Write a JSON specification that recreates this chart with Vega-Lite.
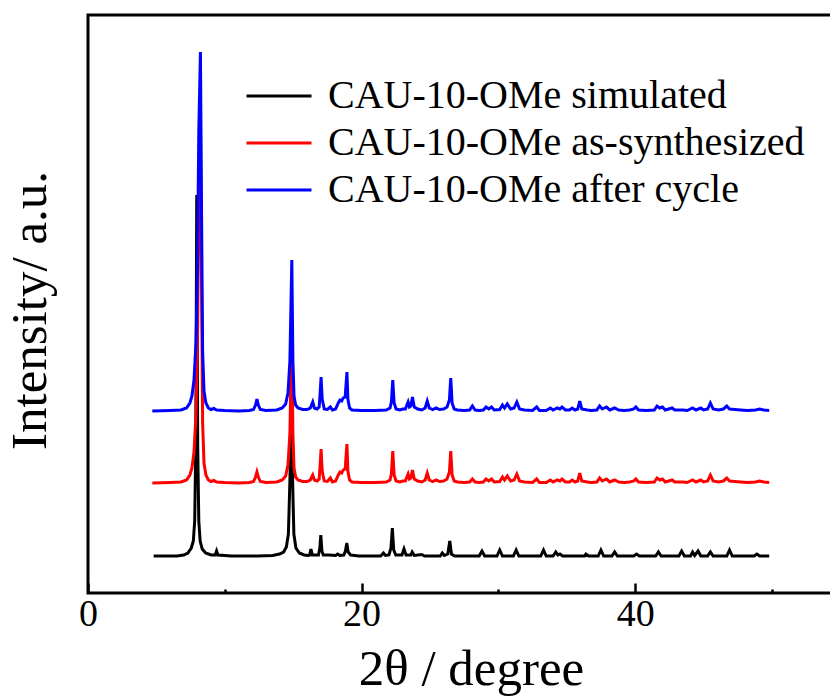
{
  "$schema": "https://vega.github.io/schema/vega-lite/v6.json",
  "width": 766,
  "height": 578,
  "autosize": {"type": "none"},
  "padding": {"left": 88, "top": 15, "right": 0, "bottom": 107},
  "background": "white",
  "config": {
    "view": {"stroke": "black", "strokeWidth": 3},
    "font": "Liberation Serif",
    "axis": {"grid": false}
  },
  "datasets": {
    "xrd": [
      {"angle": 4.8, "intensity": 37, "sample": "CAU-10-OMe simulated"},
      {"angle": 6.5, "intensity": 37, "sample": "CAU-10-OMe simulated"},
      {"angle": 7.0, "intensity": 38, "sample": "CAU-10-OMe simulated"},
      {"angle": 7.3, "intensity": 40, "sample": "CAU-10-OMe simulated"},
      {"angle": 7.55, "intensity": 45, "sample": "CAU-10-OMe simulated"},
      {"angle": 7.7, "intensity": 52, "sample": "CAU-10-OMe simulated"},
      {"angle": 7.8, "intensity": 72, "sample": "CAU-10-OMe simulated"},
      {"angle": 7.88, "intensity": 147, "sample": "CAU-10-OMe simulated"},
      {"angle": 7.95, "intensity": 398, "sample": "CAU-10-OMe simulated"},
      {"angle": 8.02, "intensity": 147, "sample": "CAU-10-OMe simulated"},
      {"angle": 8.1, "intensity": 72, "sample": "CAU-10-OMe simulated"},
      {"angle": 8.2, "intensity": 52, "sample": "CAU-10-OMe simulated"},
      {"angle": 8.35, "intensity": 44, "sample": "CAU-10-OMe simulated"},
      {"angle": 8.6, "intensity": 40, "sample": "CAU-10-OMe simulated"},
      {"angle": 9.0, "intensity": 38, "sample": "CAU-10-OMe simulated"},
      {"angle": 9.3, "intensity": 38, "sample": "CAU-10-OMe simulated"},
      {"angle": 9.4, "intensity": 42, "sample": "CAU-10-OMe simulated"},
      {"angle": 9.5, "intensity": 38, "sample": "CAU-10-OMe simulated"},
      {"angle": 10.5, "intensity": 37, "sample": "CAU-10-OMe simulated"},
      {"angle": 12.4, "intensity": 37, "sample": "CAU-10-OMe simulated"},
      {"angle": 13.5, "intensity": 37.5, "sample": "CAU-10-OMe simulated"},
      {"angle": 14.0, "intensity": 39, "sample": "CAU-10-OMe simulated"},
      {"angle": 14.3, "intensity": 41, "sample": "CAU-10-OMe simulated"},
      {"angle": 14.5, "intensity": 46, "sample": "CAU-10-OMe simulated"},
      {"angle": 14.65, "intensity": 59, "sample": "CAU-10-OMe simulated"},
      {"angle": 14.77, "intensity": 117, "sample": "CAU-10-OMe simulated"},
      {"angle": 14.87, "intensity": 217, "sample": "CAU-10-OMe simulated"},
      {"angle": 14.95, "intensity": 117, "sample": "CAU-10-OMe simulated"},
      {"angle": 15.05, "intensity": 59, "sample": "CAU-10-OMe simulated"},
      {"angle": 15.2, "intensity": 45, "sample": "CAU-10-OMe simulated"},
      {"angle": 15.45, "intensity": 40, "sample": "CAU-10-OMe simulated"},
      {"angle": 15.8, "intensity": 38, "sample": "CAU-10-OMe simulated"},
      {"angle": 16.1, "intensity": 37.5, "sample": "CAU-10-OMe simulated"},
      {"angle": 16.2, "intensity": 38, "sample": "CAU-10-OMe simulated"},
      {"angle": 16.3, "intensity": 44, "sample": "CAU-10-OMe simulated"},
      {"angle": 16.4, "intensity": 38, "sample": "CAU-10-OMe simulated"},
      {"angle": 16.85, "intensity": 38, "sample": "CAU-10-OMe simulated"},
      {"angle": 16.95, "intensity": 45, "sample": "CAU-10-OMe simulated"},
      {"angle": 17.02, "intensity": 58, "sample": "CAU-10-OMe simulated"},
      {"angle": 17.1, "intensity": 42, "sample": "CAU-10-OMe simulated"},
      {"angle": 17.2, "intensity": 38, "sample": "CAU-10-OMe simulated"},
      {"angle": 17.6, "intensity": 38, "sample": "CAU-10-OMe simulated"},
      {"angle": 18.1, "intensity": 37.5, "sample": "CAU-10-OMe simulated"},
      {"angle": 18.25, "intensity": 39, "sample": "CAU-10-OMe simulated"},
      {"angle": 18.4, "intensity": 37.5, "sample": "CAU-10-OMe simulated"},
      {"angle": 18.7, "intensity": 38, "sample": "CAU-10-OMe simulated"},
      {"angle": 18.82, "intensity": 42, "sample": "CAU-10-OMe simulated"},
      {"angle": 18.92, "intensity": 50, "sample": "CAU-10-OMe simulated"},
      {"angle": 19.02, "intensity": 41, "sample": "CAU-10-OMe simulated"},
      {"angle": 19.2, "intensity": 38, "sample": "CAU-10-OMe simulated"},
      {"angle": 19.8, "intensity": 37, "sample": "CAU-10-OMe simulated"},
      {"angle": 21.4, "intensity": 37, "sample": "CAU-10-OMe simulated"},
      {"angle": 21.6, "intensity": 40, "sample": "CAU-10-OMe simulated"},
      {"angle": 21.75, "intensity": 37.5, "sample": "CAU-10-OMe simulated"},
      {"angle": 22.0, "intensity": 38, "sample": "CAU-10-OMe simulated"},
      {"angle": 22.15, "intensity": 45, "sample": "CAU-10-OMe simulated"},
      {"angle": 22.25, "intensity": 65, "sample": "CAU-10-OMe simulated"},
      {"angle": 22.35, "intensity": 43, "sample": "CAU-10-OMe simulated"},
      {"angle": 22.5, "intensity": 38, "sample": "CAU-10-OMe simulated"},
      {"angle": 22.95, "intensity": 38, "sample": "CAU-10-OMe simulated"},
      {"angle": 23.1, "intensity": 44, "sample": "CAU-10-OMe simulated"},
      {"angle": 23.25, "intensity": 38, "sample": "CAU-10-OMe simulated"},
      {"angle": 23.6, "intensity": 38, "sample": "CAU-10-OMe simulated"},
      {"angle": 23.7, "intensity": 41, "sample": "CAU-10-OMe simulated"},
      {"angle": 23.85, "intensity": 37.5, "sample": "CAU-10-OMe simulated"},
      {"angle": 24.4, "intensity": 38.5, "sample": "CAU-10-OMe simulated"},
      {"angle": 24.6, "intensity": 37, "sample": "CAU-10-OMe simulated"},
      {"angle": 25.75, "intensity": 37, "sample": "CAU-10-OMe simulated"},
      {"angle": 25.9, "intensity": 40, "sample": "CAU-10-OMe simulated"},
      {"angle": 26.05, "intensity": 37.5, "sample": "CAU-10-OMe simulated"},
      {"angle": 26.3, "intensity": 39, "sample": "CAU-10-OMe simulated"},
      {"angle": 26.45, "intensity": 52, "sample": "CAU-10-OMe simulated"},
      {"angle": 26.57, "intensity": 39, "sample": "CAU-10-OMe simulated"},
      {"angle": 26.8, "intensity": 37, "sample": "CAU-10-OMe simulated"},
      {"angle": 28.6, "intensity": 37, "sample": "CAU-10-OMe simulated"},
      {"angle": 28.8, "intensity": 42, "sample": "CAU-10-OMe simulated"},
      {"angle": 29.0, "intensity": 37, "sample": "CAU-10-OMe simulated"},
      {"angle": 29.9, "intensity": 37, "sample": "CAU-10-OMe simulated"},
      {"angle": 30.1, "intensity": 43, "sample": "CAU-10-OMe simulated"},
      {"angle": 30.3, "intensity": 37, "sample": "CAU-10-OMe simulated"},
      {"angle": 31.1, "intensity": 37, "sample": "CAU-10-OMe simulated"},
      {"angle": 31.3, "intensity": 43, "sample": "CAU-10-OMe simulated"},
      {"angle": 31.5, "intensity": 37, "sample": "CAU-10-OMe simulated"},
      {"angle": 33.1, "intensity": 37, "sample": "CAU-10-OMe simulated"},
      {"angle": 33.3, "intensity": 43, "sample": "CAU-10-OMe simulated"},
      {"angle": 33.5, "intensity": 37, "sample": "CAU-10-OMe simulated"},
      {"angle": 34.0, "intensity": 37, "sample": "CAU-10-OMe simulated"},
      {"angle": 34.2, "intensity": 41, "sample": "CAU-10-OMe simulated"},
      {"angle": 34.35, "intensity": 38, "sample": "CAU-10-OMe simulated"},
      {"angle": 34.5, "intensity": 39, "sample": "CAU-10-OMe simulated"},
      {"angle": 34.7, "intensity": 37, "sample": "CAU-10-OMe simulated"},
      {"angle": 36.3, "intensity": 37, "sample": "CAU-10-OMe simulated"},
      {"angle": 36.4, "intensity": 39, "sample": "CAU-10-OMe simulated"},
      {"angle": 36.6, "intensity": 37, "sample": "CAU-10-OMe simulated"},
      {"angle": 37.3, "intensity": 37, "sample": "CAU-10-OMe simulated"},
      {"angle": 37.5, "intensity": 43, "sample": "CAU-10-OMe simulated"},
      {"angle": 37.7, "intensity": 37, "sample": "CAU-10-OMe simulated"},
      {"angle": 38.3, "intensity": 37, "sample": "CAU-10-OMe simulated"},
      {"angle": 38.5, "intensity": 41, "sample": "CAU-10-OMe simulated"},
      {"angle": 38.7, "intensity": 37, "sample": "CAU-10-OMe simulated"},
      {"angle": 39.9, "intensity": 37, "sample": "CAU-10-OMe simulated"},
      {"angle": 40.1, "intensity": 39, "sample": "CAU-10-OMe simulated"},
      {"angle": 40.3, "intensity": 37, "sample": "CAU-10-OMe simulated"},
      {"angle": 41.5, "intensity": 37, "sample": "CAU-10-OMe simulated"},
      {"angle": 41.7, "intensity": 41, "sample": "CAU-10-OMe simulated"},
      {"angle": 41.9, "intensity": 37, "sample": "CAU-10-OMe simulated"},
      {"angle": 43.2, "intensity": 37, "sample": "CAU-10-OMe simulated"},
      {"angle": 43.4, "intensity": 42, "sample": "CAU-10-OMe simulated"},
      {"angle": 43.6, "intensity": 37, "sample": "CAU-10-OMe simulated"},
      {"angle": 44.05, "intensity": 37, "sample": "CAU-10-OMe simulated"},
      {"angle": 44.2, "intensity": 41, "sample": "CAU-10-OMe simulated"},
      {"angle": 44.35, "intensity": 37.5, "sample": "CAU-10-OMe simulated"},
      {"angle": 44.6, "intensity": 42, "sample": "CAU-10-OMe simulated"},
      {"angle": 44.8, "intensity": 37, "sample": "CAU-10-OMe simulated"},
      {"angle": 45.3, "intensity": 37, "sample": "CAU-10-OMe simulated"},
      {"angle": 45.5, "intensity": 41, "sample": "CAU-10-OMe simulated"},
      {"angle": 45.7, "intensity": 37, "sample": "CAU-10-OMe simulated"},
      {"angle": 46.7, "intensity": 37, "sample": "CAU-10-OMe simulated"},
      {"angle": 46.9, "intensity": 43, "sample": "CAU-10-OMe simulated"},
      {"angle": 47.1, "intensity": 37, "sample": "CAU-10-OMe simulated"},
      {"angle": 48.7, "intensity": 37, "sample": "CAU-10-OMe simulated"},
      {"angle": 48.9, "intensity": 39, "sample": "CAU-10-OMe simulated"},
      {"angle": 49.1, "intensity": 37, "sample": "CAU-10-OMe simulated"},
      {"angle": 49.8, "intensity": 37, "sample": "CAU-10-OMe simulated"},

      {"angle": 4.7, "intensity": 110, "sample": "CAU-10-OMe as-synthesized"},
      {"angle": 6.0, "intensity": 110.5, "sample": "CAU-10-OMe as-synthesized"},
      {"angle": 6.8, "intensity": 111, "sample": "CAU-10-OMe as-synthesized"},
      {"angle": 7.2, "intensity": 113, "sample": "CAU-10-OMe as-synthesized"},
      {"angle": 7.45, "intensity": 118, "sample": "CAU-10-OMe as-synthesized"},
      {"angle": 7.6, "intensity": 125, "sample": "CAU-10-OMe as-synthesized"},
      {"angle": 7.75, "intensity": 141, "sample": "CAU-10-OMe as-synthesized"},
      {"angle": 7.9, "intensity": 180, "sample": "CAU-10-OMe as-synthesized"},
      {"angle": 8.0, "intensity": 250, "sample": "CAU-10-OMe as-synthesized"},
      {"angle": 8.1, "intensity": 390, "sample": "CAU-10-OMe as-synthesized"},
      {"angle": 8.22, "intensity": 469, "sample": "CAU-10-OMe as-synthesized"},
      {"angle": 8.3, "intensity": 310, "sample": "CAU-10-OMe as-synthesized"},
      {"angle": 8.38, "intensity": 170, "sample": "CAU-10-OMe as-synthesized"},
      {"angle": 8.48, "intensity": 130, "sample": "CAU-10-OMe as-synthesized"},
      {"angle": 8.62, "intensity": 118, "sample": "CAU-10-OMe as-synthesized"},
      {"angle": 8.8, "intensity": 113, "sample": "CAU-10-OMe as-synthesized"},
      {"angle": 9.0, "intensity": 111.5, "sample": "CAU-10-OMe as-synthesized"},
      {"angle": 9.2, "intensity": 112.5, "sample": "CAU-10-OMe as-synthesized"},
      {"angle": 9.4, "intensity": 111, "sample": "CAU-10-OMe as-synthesized"},
      {"angle": 10.0, "intensity": 110.5, "sample": "CAU-10-OMe as-synthesized"},
      {"angle": 11.0, "intensity": 110, "sample": "CAU-10-OMe as-synthesized"},
      {"angle": 11.8, "intensity": 110.5, "sample": "CAU-10-OMe as-synthesized"},
      {"angle": 12.1, "intensity": 111.5, "sample": "CAU-10-OMe as-synthesized"},
      {"angle": 12.25, "intensity": 116, "sample": "CAU-10-OMe as-synthesized"},
      {"angle": 12.35, "intensity": 121, "sample": "CAU-10-OMe as-synthesized"},
      {"angle": 12.45, "intensity": 116, "sample": "CAU-10-OMe as-synthesized"},
      {"angle": 12.6, "intensity": 111.5, "sample": "CAU-10-OMe as-synthesized"},
      {"angle": 13.0, "intensity": 110.5, "sample": "CAU-10-OMe as-synthesized"},
      {"angle": 13.8, "intensity": 111, "sample": "CAU-10-OMe as-synthesized"},
      {"angle": 14.2, "intensity": 113, "sample": "CAU-10-OMe as-synthesized"},
      {"angle": 14.45, "intensity": 117, "sample": "CAU-10-OMe as-synthesized"},
      {"angle": 14.62, "intensity": 128, "sample": "CAU-10-OMe as-synthesized"},
      {"angle": 14.76, "intensity": 160, "sample": "CAU-10-OMe as-synthesized"},
      {"angle": 14.9, "intensity": 261, "sample": "CAU-10-OMe as-synthesized"},
      {"angle": 14.98, "intensity": 160, "sample": "CAU-10-OMe as-synthesized"},
      {"angle": 15.06, "intensity": 125, "sample": "CAU-10-OMe as-synthesized"},
      {"angle": 15.18, "intensity": 116, "sample": "CAU-10-OMe as-synthesized"},
      {"angle": 15.35, "intensity": 113, "sample": "CAU-10-OMe as-synthesized"},
      {"angle": 15.7, "intensity": 111.5, "sample": "CAU-10-OMe as-synthesized"},
      {"angle": 16.0, "intensity": 111.5, "sample": "CAU-10-OMe as-synthesized"},
      {"angle": 16.25, "intensity": 113, "sample": "CAU-10-OMe as-synthesized"},
      {"angle": 16.43, "intensity": 118, "sample": "CAU-10-OMe as-synthesized"},
      {"angle": 16.55, "intensity": 113, "sample": "CAU-10-OMe as-synthesized"},
      {"angle": 16.75, "intensity": 112, "sample": "CAU-10-OMe as-synthesized"},
      {"angle": 16.9, "intensity": 114, "sample": "CAU-10-OMe as-synthesized"},
      {"angle": 16.98, "intensity": 130, "sample": "CAU-10-OMe as-synthesized"},
      {"angle": 17.04, "intensity": 144, "sample": "CAU-10-OMe as-synthesized"},
      {"angle": 17.12, "intensity": 122, "sample": "CAU-10-OMe as-synthesized"},
      {"angle": 17.27, "intensity": 112, "sample": "CAU-10-OMe as-synthesized"},
      {"angle": 17.5, "intensity": 111.5, "sample": "CAU-10-OMe as-synthesized"},
      {"angle": 17.72, "intensity": 115, "sample": "CAU-10-OMe as-synthesized"},
      {"angle": 17.87, "intensity": 111, "sample": "CAU-10-OMe as-synthesized"},
      {"angle": 18.1, "intensity": 112, "sample": "CAU-10-OMe as-synthesized"},
      {"angle": 18.3, "intensity": 118, "sample": "CAU-10-OMe as-synthesized"},
      {"angle": 18.42, "intensity": 121, "sample": "CAU-10-OMe as-synthesized"},
      {"angle": 18.55, "intensity": 120, "sample": "CAU-10-OMe as-synthesized"},
      {"angle": 18.65, "intensity": 123, "sample": "CAU-10-OMe as-synthesized"},
      {"angle": 18.8, "intensity": 124, "sample": "CAU-10-OMe as-synthesized"},
      {"angle": 18.93, "intensity": 149, "sample": "CAU-10-OMe as-synthesized"},
      {"angle": 19.0, "intensity": 122, "sample": "CAU-10-OMe as-synthesized"},
      {"angle": 19.12, "intensity": 113, "sample": "CAU-10-OMe as-synthesized"},
      {"angle": 19.3, "intensity": 111, "sample": "CAU-10-OMe as-synthesized"},
      {"angle": 20.0, "intensity": 110.5, "sample": "CAU-10-OMe as-synthesized"},
      {"angle": 21.0, "intensity": 110.5, "sample": "CAU-10-OMe as-synthesized"},
      {"angle": 21.8, "intensity": 111, "sample": "CAU-10-OMe as-synthesized"},
      {"angle": 22.08, "intensity": 113, "sample": "CAU-10-OMe as-synthesized"},
      {"angle": 22.18, "intensity": 119, "sample": "CAU-10-OMe as-synthesized"},
      {"angle": 22.28, "intensity": 142, "sample": "CAU-10-OMe as-synthesized"},
      {"angle": 22.38, "intensity": 118, "sample": "CAU-10-OMe as-synthesized"},
      {"angle": 22.52, "intensity": 112, "sample": "CAU-10-OMe as-synthesized"},
      {"angle": 22.8, "intensity": 111, "sample": "CAU-10-OMe as-synthesized"},
      {"angle": 23.0, "intensity": 112, "sample": "CAU-10-OMe as-synthesized"},
      {"angle": 23.2, "intensity": 112, "sample": "CAU-10-OMe as-synthesized"},
      {"angle": 23.4, "intensity": 119, "sample": "CAU-10-OMe as-synthesized"},
      {"angle": 23.5, "intensity": 114, "sample": "CAU-10-OMe as-synthesized"},
      {"angle": 23.6, "intensity": 115, "sample": "CAU-10-OMe as-synthesized"},
      {"angle": 23.72, "intensity": 123, "sample": "CAU-10-OMe as-synthesized"},
      {"angle": 23.85, "intensity": 114, "sample": "CAU-10-OMe as-synthesized"},
      {"angle": 24.1, "intensity": 112, "sample": "CAU-10-OMe as-synthesized"},
      {"angle": 24.4, "intensity": 111, "sample": "CAU-10-OMe as-synthesized"},
      {"angle": 24.65, "intensity": 113, "sample": "CAU-10-OMe as-synthesized"},
      {"angle": 24.8, "intensity": 120, "sample": "CAU-10-OMe as-synthesized"},
      {"angle": 24.95, "intensity": 113, "sample": "CAU-10-OMe as-synthesized"},
      {"angle": 25.2, "intensity": 111.5, "sample": "CAU-10-OMe as-synthesized"},
      {"angle": 25.45, "intensity": 113, "sample": "CAU-10-OMe as-synthesized"},
      {"angle": 25.7, "intensity": 111.5, "sample": "CAU-10-OMe as-synthesized"},
      {"angle": 26.0, "intensity": 112, "sample": "CAU-10-OMe as-synthesized"},
      {"angle": 26.25, "intensity": 114, "sample": "CAU-10-OMe as-synthesized"},
      {"angle": 26.42, "intensity": 121, "sample": "CAU-10-OMe as-synthesized"},
      {"angle": 26.52, "intensity": 142, "sample": "CAU-10-OMe as-synthesized"},
      {"angle": 26.62, "intensity": 118, "sample": "CAU-10-OMe as-synthesized"},
      {"angle": 26.77, "intensity": 112, "sample": "CAU-10-OMe as-synthesized"},
      {"angle": 27.0, "intensity": 111, "sample": "CAU-10-OMe as-synthesized"},
      {"angle": 27.5, "intensity": 110.5, "sample": "CAU-10-OMe as-synthesized"},
      {"angle": 27.9, "intensity": 111, "sample": "CAU-10-OMe as-synthesized"},
      {"angle": 28.1, "intensity": 114, "sample": "CAU-10-OMe as-synthesized"},
      {"angle": 28.3, "intensity": 111, "sample": "CAU-10-OMe as-synthesized"},
      {"angle": 28.6, "intensity": 110.5, "sample": "CAU-10-OMe as-synthesized"},
      {"angle": 28.9, "intensity": 111, "sample": "CAU-10-OMe as-synthesized"},
      {"angle": 29.1, "intensity": 114, "sample": "CAU-10-OMe as-synthesized"},
      {"angle": 29.3, "intensity": 112, "sample": "CAU-10-OMe as-synthesized"},
      {"angle": 29.5, "intensity": 114, "sample": "CAU-10-OMe as-synthesized"},
      {"angle": 29.7, "intensity": 111, "sample": "CAU-10-OMe as-synthesized"},
      {"angle": 30.1, "intensity": 111.5, "sample": "CAU-10-OMe as-synthesized"},
      {"angle": 30.3, "intensity": 116, "sample": "CAU-10-OMe as-synthesized"},
      {"angle": 30.45, "intensity": 113, "sample": "CAU-10-OMe as-synthesized"},
      {"angle": 30.65, "intensity": 117, "sample": "CAU-10-OMe as-synthesized"},
      {"angle": 30.9, "intensity": 112, "sample": "CAU-10-OMe as-synthesized"},
      {"angle": 31.15, "intensity": 113, "sample": "CAU-10-OMe as-synthesized"},
      {"angle": 31.35, "intensity": 119, "sample": "CAU-10-OMe as-synthesized"},
      {"angle": 31.55, "intensity": 112, "sample": "CAU-10-OMe as-synthesized"},
      {"angle": 31.9, "intensity": 111, "sample": "CAU-10-OMe as-synthesized"},
      {"angle": 32.5, "intensity": 110.5, "sample": "CAU-10-OMe as-synthesized"},
      {"angle": 32.8, "intensity": 114, "sample": "CAU-10-OMe as-synthesized"},
      {"angle": 33.0, "intensity": 110.5, "sample": "CAU-10-OMe as-synthesized"},
      {"angle": 33.5, "intensity": 110.5, "sample": "CAU-10-OMe as-synthesized"},
      {"angle": 33.8, "intensity": 113, "sample": "CAU-10-OMe as-synthesized"},
      {"angle": 34.0, "intensity": 111, "sample": "CAU-10-OMe as-synthesized"},
      {"angle": 34.3, "intensity": 113, "sample": "CAU-10-OMe as-synthesized"},
      {"angle": 34.5, "intensity": 112, "sample": "CAU-10-OMe as-synthesized"},
      {"angle": 34.65, "intensity": 114, "sample": "CAU-10-OMe as-synthesized"},
      {"angle": 34.9, "intensity": 111, "sample": "CAU-10-OMe as-synthesized"},
      {"angle": 35.2, "intensity": 111, "sample": "CAU-10-OMe as-synthesized"},
      {"angle": 35.4, "intensity": 113, "sample": "CAU-10-OMe as-synthesized"},
      {"angle": 35.6, "intensity": 111, "sample": "CAU-10-OMe as-synthesized"},
      {"angle": 35.8, "intensity": 112, "sample": "CAU-10-OMe as-synthesized"},
      {"angle": 35.95, "intensity": 120, "sample": "CAU-10-OMe as-synthesized"},
      {"angle": 36.1, "intensity": 112, "sample": "CAU-10-OMe as-synthesized"},
      {"angle": 36.5, "intensity": 111, "sample": "CAU-10-OMe as-synthesized"},
      {"angle": 36.8, "intensity": 110.5, "sample": "CAU-10-OMe as-synthesized"},
      {"angle": 37.2, "intensity": 111, "sample": "CAU-10-OMe as-synthesized"},
      {"angle": 37.4, "intensity": 115, "sample": "CAU-10-OMe as-synthesized"},
      {"angle": 37.6, "intensity": 112, "sample": "CAU-10-OMe as-synthesized"},
      {"angle": 37.9, "intensity": 114, "sample": "CAU-10-OMe as-synthesized"},
      {"angle": 38.15, "intensity": 111, "sample": "CAU-10-OMe as-synthesized"},
      {"angle": 38.5, "intensity": 113, "sample": "CAU-10-OMe as-synthesized"},
      {"angle": 38.8, "intensity": 111, "sample": "CAU-10-OMe as-synthesized"},
      {"angle": 39.2, "intensity": 110.5, "sample": "CAU-10-OMe as-synthesized"},
      {"angle": 39.6, "intensity": 111, "sample": "CAU-10-OMe as-synthesized"},
      {"angle": 39.9, "intensity": 112, "sample": "CAU-10-OMe as-synthesized"},
      {"angle": 40.05, "intensity": 114, "sample": "CAU-10-OMe as-synthesized"},
      {"angle": 40.25, "intensity": 111, "sample": "CAU-10-OMe as-synthesized"},
      {"angle": 40.8, "intensity": 110.5, "sample": "CAU-10-OMe as-synthesized"},
      {"angle": 41.4, "intensity": 111, "sample": "CAU-10-OMe as-synthesized"},
      {"angle": 41.6, "intensity": 115, "sample": "CAU-10-OMe as-synthesized"},
      {"angle": 41.8, "intensity": 113, "sample": "CAU-10-OMe as-synthesized"},
      {"angle": 42.0, "intensity": 114, "sample": "CAU-10-OMe as-synthesized"},
      {"angle": 42.2, "intensity": 111, "sample": "CAU-10-OMe as-synthesized"},
      {"angle": 42.7, "intensity": 113, "sample": "CAU-10-OMe as-synthesized"},
      {"angle": 42.9, "intensity": 111, "sample": "CAU-10-OMe as-synthesized"},
      {"angle": 43.5, "intensity": 111, "sample": "CAU-10-OMe as-synthesized"},
      {"angle": 43.8, "intensity": 110.5, "sample": "CAU-10-OMe as-synthesized"},
      {"angle": 44.2, "intensity": 113, "sample": "CAU-10-OMe as-synthesized"},
      {"angle": 44.45, "intensity": 111, "sample": "CAU-10-OMe as-synthesized"},
      {"angle": 44.8, "intensity": 113, "sample": "CAU-10-OMe as-synthesized"},
      {"angle": 45.0, "intensity": 111, "sample": "CAU-10-OMe as-synthesized"},
      {"angle": 45.3, "intensity": 112, "sample": "CAU-10-OMe as-synthesized"},
      {"angle": 45.5, "intensity": 118, "sample": "CAU-10-OMe as-synthesized"},
      {"angle": 45.7, "intensity": 112, "sample": "CAU-10-OMe as-synthesized"},
      {"angle": 46.1, "intensity": 111, "sample": "CAU-10-OMe as-synthesized"},
      {"angle": 46.45, "intensity": 112, "sample": "CAU-10-OMe as-synthesized"},
      {"angle": 46.7, "intensity": 115, "sample": "CAU-10-OMe as-synthesized"},
      {"angle": 46.9, "intensity": 112, "sample": "CAU-10-OMe as-synthesized"},
      {"angle": 47.3, "intensity": 111.5, "sample": "CAU-10-OMe as-synthesized"},
      {"angle": 47.7, "intensity": 111, "sample": "CAU-10-OMe as-synthesized"},
      {"angle": 48.2, "intensity": 110.5, "sample": "CAU-10-OMe as-synthesized"},
      {"angle": 48.8, "intensity": 111, "sample": "CAU-10-OMe as-synthesized"},
      {"angle": 49.1, "intensity": 112, "sample": "CAU-10-OMe as-synthesized"},
      {"angle": 49.4, "intensity": 111, "sample": "CAU-10-OMe as-synthesized"},
      {"angle": 49.8, "intensity": 110.5, "sample": "CAU-10-OMe as-synthesized"},

      {"angle": 4.7, "intensity": 182, "sample": "CAU-10-OMe after cycle"},
      {"angle": 6.0, "intensity": 182.5, "sample": "CAU-10-OMe after cycle"},
      {"angle": 6.8, "intensity": 183, "sample": "CAU-10-OMe after cycle"},
      {"angle": 7.2, "intensity": 185, "sample": "CAU-10-OMe after cycle"},
      {"angle": 7.45, "intensity": 190, "sample": "CAU-10-OMe after cycle"},
      {"angle": 7.6, "intensity": 197, "sample": "CAU-10-OMe after cycle"},
      {"angle": 7.75, "intensity": 213, "sample": "CAU-10-OMe after cycle"},
      {"angle": 7.9, "intensity": 252, "sample": "CAU-10-OMe after cycle"},
      {"angle": 8.0, "intensity": 322, "sample": "CAU-10-OMe after cycle"},
      {"angle": 8.1, "intensity": 462, "sample": "CAU-10-OMe after cycle"},
      {"angle": 8.22, "intensity": 541, "sample": "CAU-10-OMe after cycle"},
      {"angle": 8.3, "intensity": 382, "sample": "CAU-10-OMe after cycle"},
      {"angle": 8.38, "intensity": 242, "sample": "CAU-10-OMe after cycle"},
      {"angle": 8.48, "intensity": 202, "sample": "CAU-10-OMe after cycle"},
      {"angle": 8.62, "intensity": 190, "sample": "CAU-10-OMe after cycle"},
      {"angle": 8.8, "intensity": 185, "sample": "CAU-10-OMe after cycle"},
      {"angle": 9.0, "intensity": 183.5, "sample": "CAU-10-OMe after cycle"},
      {"angle": 9.2, "intensity": 184.5, "sample": "CAU-10-OMe after cycle"},
      {"angle": 9.4, "intensity": 183, "sample": "CAU-10-OMe after cycle"},
      {"angle": 10.0, "intensity": 182.5, "sample": "CAU-10-OMe after cycle"},
      {"angle": 11.0, "intensity": 182, "sample": "CAU-10-OMe after cycle"},
      {"angle": 11.8, "intensity": 182.5, "sample": "CAU-10-OMe after cycle"},
      {"angle": 12.1, "intensity": 183.5, "sample": "CAU-10-OMe after cycle"},
      {"angle": 12.25, "intensity": 188, "sample": "CAU-10-OMe after cycle"},
      {"angle": 12.35, "intensity": 194, "sample": "CAU-10-OMe after cycle"},
      {"angle": 12.45, "intensity": 188, "sample": "CAU-10-OMe after cycle"},
      {"angle": 12.6, "intensity": 183.5, "sample": "CAU-10-OMe after cycle"},
      {"angle": 13.0, "intensity": 182.5, "sample": "CAU-10-OMe after cycle"},
      {"angle": 13.8, "intensity": 183, "sample": "CAU-10-OMe after cycle"},
      {"angle": 14.2, "intensity": 185, "sample": "CAU-10-OMe after cycle"},
      {"angle": 14.45, "intensity": 189, "sample": "CAU-10-OMe after cycle"},
      {"angle": 14.62, "intensity": 200, "sample": "CAU-10-OMe after cycle"},
      {"angle": 14.76, "intensity": 232, "sample": "CAU-10-OMe after cycle"},
      {"angle": 14.9, "intensity": 333, "sample": "CAU-10-OMe after cycle"},
      {"angle": 14.98, "intensity": 232, "sample": "CAU-10-OMe after cycle"},
      {"angle": 15.06, "intensity": 197, "sample": "CAU-10-OMe after cycle"},
      {"angle": 15.18, "intensity": 188, "sample": "CAU-10-OMe after cycle"},
      {"angle": 15.35, "intensity": 185, "sample": "CAU-10-OMe after cycle"},
      {"angle": 15.7, "intensity": 183.5, "sample": "CAU-10-OMe after cycle"},
      {"angle": 16.0, "intensity": 183.5, "sample": "CAU-10-OMe after cycle"},
      {"angle": 16.25, "intensity": 185, "sample": "CAU-10-OMe after cycle"},
      {"angle": 16.43, "intensity": 191, "sample": "CAU-10-OMe after cycle"},
      {"angle": 16.55, "intensity": 185, "sample": "CAU-10-OMe after cycle"},
      {"angle": 16.75, "intensity": 184, "sample": "CAU-10-OMe after cycle"},
      {"angle": 16.9, "intensity": 186, "sample": "CAU-10-OMe after cycle"},
      {"angle": 16.98, "intensity": 202, "sample": "CAU-10-OMe after cycle"},
      {"angle": 17.04, "intensity": 216, "sample": "CAU-10-OMe after cycle"},
      {"angle": 17.12, "intensity": 194, "sample": "CAU-10-OMe after cycle"},
      {"angle": 17.27, "intensity": 184, "sample": "CAU-10-OMe after cycle"},
      {"angle": 17.5, "intensity": 183.5, "sample": "CAU-10-OMe after cycle"},
      {"angle": 17.72, "intensity": 186, "sample": "CAU-10-OMe after cycle"},
      {"angle": 17.87, "intensity": 183, "sample": "CAU-10-OMe after cycle"},
      {"angle": 18.1, "intensity": 184, "sample": "CAU-10-OMe after cycle"},
      {"angle": 18.3, "intensity": 190, "sample": "CAU-10-OMe after cycle"},
      {"angle": 18.42, "intensity": 193, "sample": "CAU-10-OMe after cycle"},
      {"angle": 18.55, "intensity": 192, "sample": "CAU-10-OMe after cycle"},
      {"angle": 18.65, "intensity": 195, "sample": "CAU-10-OMe after cycle"},
      {"angle": 18.8, "intensity": 196, "sample": "CAU-10-OMe after cycle"},
      {"angle": 18.93, "intensity": 221, "sample": "CAU-10-OMe after cycle"},
      {"angle": 19.0, "intensity": 194, "sample": "CAU-10-OMe after cycle"},
      {"angle": 19.12, "intensity": 185, "sample": "CAU-10-OMe after cycle"},
      {"angle": 19.3, "intensity": 183, "sample": "CAU-10-OMe after cycle"},
      {"angle": 20.0, "intensity": 182.5, "sample": "CAU-10-OMe after cycle"},
      {"angle": 21.0, "intensity": 182.5, "sample": "CAU-10-OMe after cycle"},
      {"angle": 21.8, "intensity": 183, "sample": "CAU-10-OMe after cycle"},
      {"angle": 22.08, "intensity": 185, "sample": "CAU-10-OMe after cycle"},
      {"angle": 22.18, "intensity": 191, "sample": "CAU-10-OMe after cycle"},
      {"angle": 22.28, "intensity": 213, "sample": "CAU-10-OMe after cycle"},
      {"angle": 22.38, "intensity": 190, "sample": "CAU-10-OMe after cycle"},
      {"angle": 22.52, "intensity": 184, "sample": "CAU-10-OMe after cycle"},
      {"angle": 22.8, "intensity": 183, "sample": "CAU-10-OMe after cycle"},
      {"angle": 23.0, "intensity": 184, "sample": "CAU-10-OMe after cycle"},
      {"angle": 23.2, "intensity": 184, "sample": "CAU-10-OMe after cycle"},
      {"angle": 23.4, "intensity": 191, "sample": "CAU-10-OMe after cycle"},
      {"angle": 23.5, "intensity": 186, "sample": "CAU-10-OMe after cycle"},
      {"angle": 23.6, "intensity": 187, "sample": "CAU-10-OMe after cycle"},
      {"angle": 23.72, "intensity": 196, "sample": "CAU-10-OMe after cycle"},
      {"angle": 23.85, "intensity": 186, "sample": "CAU-10-OMe after cycle"},
      {"angle": 24.1, "intensity": 184, "sample": "CAU-10-OMe after cycle"},
      {"angle": 24.4, "intensity": 183, "sample": "CAU-10-OMe after cycle"},
      {"angle": 24.65, "intensity": 185, "sample": "CAU-10-OMe after cycle"},
      {"angle": 24.8, "intensity": 192, "sample": "CAU-10-OMe after cycle"},
      {"angle": 24.95, "intensity": 185, "sample": "CAU-10-OMe after cycle"},
      {"angle": 25.2, "intensity": 183.5, "sample": "CAU-10-OMe after cycle"},
      {"angle": 25.45, "intensity": 185, "sample": "CAU-10-OMe after cycle"},
      {"angle": 25.7, "intensity": 183.5, "sample": "CAU-10-OMe after cycle"},
      {"angle": 26.0, "intensity": 184, "sample": "CAU-10-OMe after cycle"},
      {"angle": 26.25, "intensity": 186, "sample": "CAU-10-OMe after cycle"},
      {"angle": 26.42, "intensity": 193, "sample": "CAU-10-OMe after cycle"},
      {"angle": 26.52, "intensity": 215, "sample": "CAU-10-OMe after cycle"},
      {"angle": 26.62, "intensity": 190, "sample": "CAU-10-OMe after cycle"},
      {"angle": 26.77, "intensity": 184, "sample": "CAU-10-OMe after cycle"},
      {"angle": 27.0, "intensity": 183, "sample": "CAU-10-OMe after cycle"},
      {"angle": 27.5, "intensity": 182.5, "sample": "CAU-10-OMe after cycle"},
      {"angle": 27.9, "intensity": 183, "sample": "CAU-10-OMe after cycle"},
      {"angle": 28.1, "intensity": 187, "sample": "CAU-10-OMe after cycle"},
      {"angle": 28.3, "intensity": 183, "sample": "CAU-10-OMe after cycle"},
      {"angle": 28.6, "intensity": 182.5, "sample": "CAU-10-OMe after cycle"},
      {"angle": 28.9, "intensity": 183, "sample": "CAU-10-OMe after cycle"},
      {"angle": 29.1, "intensity": 186, "sample": "CAU-10-OMe after cycle"},
      {"angle": 29.3, "intensity": 184, "sample": "CAU-10-OMe after cycle"},
      {"angle": 29.5, "intensity": 186, "sample": "CAU-10-OMe after cycle"},
      {"angle": 29.7, "intensity": 183, "sample": "CAU-10-OMe after cycle"},
      {"angle": 30.1, "intensity": 183.5, "sample": "CAU-10-OMe after cycle"},
      {"angle": 30.3, "intensity": 188, "sample": "CAU-10-OMe after cycle"},
      {"angle": 30.45, "intensity": 185, "sample": "CAU-10-OMe after cycle"},
      {"angle": 30.65, "intensity": 189, "sample": "CAU-10-OMe after cycle"},
      {"angle": 30.9, "intensity": 184, "sample": "CAU-10-OMe after cycle"},
      {"angle": 31.15, "intensity": 185, "sample": "CAU-10-OMe after cycle"},
      {"angle": 31.35, "intensity": 191, "sample": "CAU-10-OMe after cycle"},
      {"angle": 31.55, "intensity": 184, "sample": "CAU-10-OMe after cycle"},
      {"angle": 31.9, "intensity": 183, "sample": "CAU-10-OMe after cycle"},
      {"angle": 32.5, "intensity": 182.5, "sample": "CAU-10-OMe after cycle"},
      {"angle": 32.8, "intensity": 186, "sample": "CAU-10-OMe after cycle"},
      {"angle": 33.0, "intensity": 182.5, "sample": "CAU-10-OMe after cycle"},
      {"angle": 33.5, "intensity": 182.5, "sample": "CAU-10-OMe after cycle"},
      {"angle": 33.8, "intensity": 185, "sample": "CAU-10-OMe after cycle"},
      {"angle": 34.0, "intensity": 183, "sample": "CAU-10-OMe after cycle"},
      {"angle": 34.3, "intensity": 185, "sample": "CAU-10-OMe after cycle"},
      {"angle": 34.5, "intensity": 184, "sample": "CAU-10-OMe after cycle"},
      {"angle": 34.65, "intensity": 186, "sample": "CAU-10-OMe after cycle"},
      {"angle": 34.9, "intensity": 183, "sample": "CAU-10-OMe after cycle"},
      {"angle": 35.2, "intensity": 183, "sample": "CAU-10-OMe after cycle"},
      {"angle": 35.4, "intensity": 185, "sample": "CAU-10-OMe after cycle"},
      {"angle": 35.6, "intensity": 183, "sample": "CAU-10-OMe after cycle"},
      {"angle": 35.8, "intensity": 184, "sample": "CAU-10-OMe after cycle"},
      {"angle": 35.95, "intensity": 192, "sample": "CAU-10-OMe after cycle"},
      {"angle": 36.1, "intensity": 184, "sample": "CAU-10-OMe after cycle"},
      {"angle": 36.5, "intensity": 183, "sample": "CAU-10-OMe after cycle"},
      {"angle": 36.8, "intensity": 182.5, "sample": "CAU-10-OMe after cycle"},
      {"angle": 37.2, "intensity": 183, "sample": "CAU-10-OMe after cycle"},
      {"angle": 37.4, "intensity": 187, "sample": "CAU-10-OMe after cycle"},
      {"angle": 37.6, "intensity": 184, "sample": "CAU-10-OMe after cycle"},
      {"angle": 37.9, "intensity": 186, "sample": "CAU-10-OMe after cycle"},
      {"angle": 38.15, "intensity": 183, "sample": "CAU-10-OMe after cycle"},
      {"angle": 38.5, "intensity": 185, "sample": "CAU-10-OMe after cycle"},
      {"angle": 38.8, "intensity": 183, "sample": "CAU-10-OMe after cycle"},
      {"angle": 39.2, "intensity": 182.5, "sample": "CAU-10-OMe after cycle"},
      {"angle": 39.6, "intensity": 183, "sample": "CAU-10-OMe after cycle"},
      {"angle": 39.9, "intensity": 184, "sample": "CAU-10-OMe after cycle"},
      {"angle": 40.05, "intensity": 186, "sample": "CAU-10-OMe after cycle"},
      {"angle": 40.25, "intensity": 183, "sample": "CAU-10-OMe after cycle"},
      {"angle": 40.8, "intensity": 182.5, "sample": "CAU-10-OMe after cycle"},
      {"angle": 41.4, "intensity": 183, "sample": "CAU-10-OMe after cycle"},
      {"angle": 41.6, "intensity": 187, "sample": "CAU-10-OMe after cycle"},
      {"angle": 41.8, "intensity": 185, "sample": "CAU-10-OMe after cycle"},
      {"angle": 42.0, "intensity": 186, "sample": "CAU-10-OMe after cycle"},
      {"angle": 42.2, "intensity": 183, "sample": "CAU-10-OMe after cycle"},
      {"angle": 42.7, "intensity": 185, "sample": "CAU-10-OMe after cycle"},
      {"angle": 42.9, "intensity": 183, "sample": "CAU-10-OMe after cycle"},
      {"angle": 43.5, "intensity": 183, "sample": "CAU-10-OMe after cycle"},
      {"angle": 43.8, "intensity": 182.5, "sample": "CAU-10-OMe after cycle"},
      {"angle": 44.2, "intensity": 185, "sample": "CAU-10-OMe after cycle"},
      {"angle": 44.45, "intensity": 183, "sample": "CAU-10-OMe after cycle"},
      {"angle": 44.8, "intensity": 185, "sample": "CAU-10-OMe after cycle"},
      {"angle": 45.0, "intensity": 183, "sample": "CAU-10-OMe after cycle"},
      {"angle": 45.3, "intensity": 184, "sample": "CAU-10-OMe after cycle"},
      {"angle": 45.5, "intensity": 190, "sample": "CAU-10-OMe after cycle"},
      {"angle": 45.7, "intensity": 184, "sample": "CAU-10-OMe after cycle"},
      {"angle": 46.1, "intensity": 183, "sample": "CAU-10-OMe after cycle"},
      {"angle": 46.45, "intensity": 184, "sample": "CAU-10-OMe after cycle"},
      {"angle": 46.7, "intensity": 187, "sample": "CAU-10-OMe after cycle"},
      {"angle": 46.9, "intensity": 184, "sample": "CAU-10-OMe after cycle"},
      {"angle": 47.3, "intensity": 183.5, "sample": "CAU-10-OMe after cycle"},
      {"angle": 47.7, "intensity": 183, "sample": "CAU-10-OMe after cycle"},
      {"angle": 48.2, "intensity": 182.5, "sample": "CAU-10-OMe after cycle"},
      {"angle": 48.8, "intensity": 183, "sample": "CAU-10-OMe after cycle"},
      {"angle": 49.1, "intensity": 184, "sample": "CAU-10-OMe after cycle"},
      {"angle": 49.4, "intensity": 183, "sample": "CAU-10-OMe after cycle"},
      {"angle": 49.8, "intensity": 182.5, "sample": "CAU-10-OMe after cycle"}
    ]
  },
  "data": {"name": "xrd"},
  "mark": {"type": "line", "strokeWidth": 3, "clip": true},
  "encoding": {
    "x": {
      "field": "angle",
      "type": "quantitative",
      "scale": {"domain": [0, 56], "nice": false, "zero": false},
      "axis": {
        "title": "2θ / degree",
        "titleFont": "Liberation Serif",
        "titleFontSize": 51,
        "titleFontWeight": "normal",
        "titleColor": "black",
        "titlePadding": 5,
        "domain": false,
        "values": [0, 10, 20, 30, 40, 50],
        "labelExpr": "datum.value % 20 === 0 ? datum.label : ''",
        "labelFont": "Liberation Serif",
        "labelFontSize": 38,
        "labelColor": "black",
        "labelPadding": 12,
        "labelFlush": false,
        "labelOverlap": false,
        "tickColor": "black",
        "tickWidth": 2.5,
        "tickSize": {"condition": {"test": "datum.value % 20 === 0", "value": -10}, "value": -4}
      }
    },
    "y": {
      "field": "intensity",
      "type": "quantitative",
      "scale": {"domain": [0, 578], "nice": false, "zero": false},
      "axis": {
        "title": "Intensity/ a.u.",
        "titleFont": "Liberation Serif",
        "titleFontSize": 51,
        "titleFontWeight": "normal",
        "titleColor": "black",
        "titlePadding": 32,
        "titleY": 295,
        "labels": false,
        "ticks": false,
        "domain": false
      }
    },
    "color": {
      "field": "sample",
      "type": "nominal",
      "scale": {
        "domain": ["CAU-10-OMe simulated", "CAU-10-OMe as-synthesized", "CAU-10-OMe after cycle"],
        "range": ["#000000", "#ff0000", "#0000ff"]
      },
      "legend": {
        "title": null,
        "orient": "none",
        "legendX": 171,
        "legendY": 61,
        "symbolType": "M-2,0H2",
        "symbolSize": 1056,
        "symbolStrokeWidth": 3,
        "labelFont": "Liberation Serif",
        "labelFontSize": 40,
        "labelColor": "black",
        "labelOffset": 29,
        "labelLimit": 700,
        "rowPadding": 7,
        "padding": 0
      }
    }
  }
}
